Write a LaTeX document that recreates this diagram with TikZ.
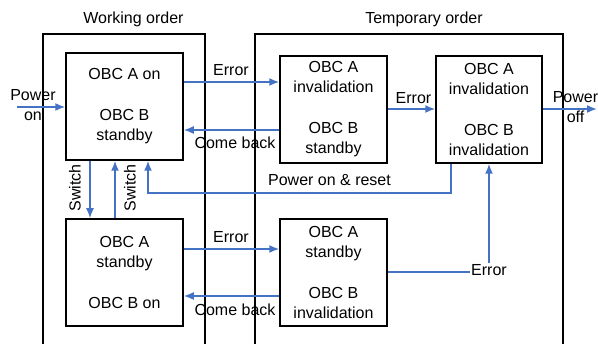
\documentclass[tikz,border=0pt]{standalone}
\usepackage{fontspec}
\setmainfont{Liberation Sans}
\usetikzlibrary{arrows.meta}
\definecolor{flowblue}{HTML}{4472C4}
\tikzset{
  statebox/.style={draw=black, line width=1.5pt, rectangle, inner sep=0pt,
    align=center, font=\fontsize{16}{20}\selectfont},
  groupbox/.style={draw=black, line width=1.5pt},
  arr/.style={draw=flowblue, line width=1.6pt, -{Latex[length=10pt,width=8pt]}},
  plain/.style={draw=flowblue, line width=1.6pt},
  lbl/.style={font=\fontsize{16}{20}\selectfont, inner sep=1.5pt, align=center},
}
\begin{document}
\begin{tikzpicture}[x=1pt, y=-1pt]
\useasboundingbox (0,0) rectangle (598,344);
\clip (0,0) rectangle (598,344);

% group frames (open towards the bottom)
\draw[groupbox] (43,380) -- (43,34) -- (205,34) -- (205,380);
\draw[groupbox] (255,380) -- (255,34) -- (563,34) -- (563,380);
\node[lbl] (wo) at (133.5,19) {Working order};
\node[lbl] (to) at (424,19) {Temporary order};

% states
\node[statebox, minimum width=117pt, minimum height=107pt] (A1) at (124.5,106.5)
  {OBC A on\\[21pt]OBC B\\standby};
\node[statebox, minimum width=117pt, minimum height=107pt] (A2) at (124.5,272.5)
  {OBC A\\standby\\[21pt]OBC B on};
\node[statebox, minimum width=107pt, minimum height=107pt] (B1) at (333.5,109.5)
  {OBC A\\invalidation\\[21pt]OBC B\\standby};
\node[statebox, minimum width=107pt, minimum height=107pt] (B2) at (333.5,272.5)
  {OBC A\\standby\\[21pt]OBC B\\invalidation};
\node[statebox, minimum width=106pt, minimum height=107pt] (C) at (489,109.5)
  {OBC A\\invalidation\\[21pt]OBC B\\invalidation};

% power on / power off
\coordinate (pin) at (17,107);
\coordinate (pout) at (597,109);
\draw[arr] (pin) -- (A1.west |- pin);
\node[lbl] (pinl) at (33,105.5) {Power\\on};
\draw[arr] (C.east |- pout) -- (pout);
\node[lbl] (poutl) at (575.5,107.5) {Power\\off};

% working order transitions
\draw[arr] (A1.south -| 90,0) -- (A2.north -| 90,0);
\draw[arr] (A2.north -| 115,0) -- (A1.south -| 115,0);
\node[lbl, rotate=90] (sw1) at (75,188) {Switch};
\node[lbl, rotate=90] (sw2) at (130,188) {Switch};

% errors and returns
\draw[arr] (A1.east |- 0,82) -- (B1.west |- 0,82);
\node[lbl] (e1) at (231,70) {Error};
\draw[arr] (B1.west |- 0,130) -- (A1.east |- 0,130);
\node[lbl] (cb1) at (235,143) {Come back};

\draw[arr] (A2.east |- 0,249) -- (B2.west |- 0,249);
\node[lbl] (e2) at (231,237) {Error};
\draw[arr] (B2.west |- 0,296) -- (A2.east |- 0,296);
\node[lbl] (cb2) at (235,310) {Come back};

\draw[arr] (B1.east |- 0,109) -- (C.west |- 0,109);
\node[lbl] (e3) at (413.5,98.5) {Error};

\node[lbl] (e4) at (489,270) {Error};
\draw[plain] (B2.east |- 0,272) -- (e4.west |- 0,272);
\draw[arr] (e4.north) -- (C.south -| e4.north);

% reset path back to the working order
\coordinate (rs1) at (451,193);
\coordinate (rs2) at (148,193);
\draw[arr] (C.south -| rs1) -- (rs1) -- (rs2) -- (A1.south -| rs2);
\node[lbl] (rst) at (329.5,180) {Power on \& reset};
\end{tikzpicture}
\end{document}
